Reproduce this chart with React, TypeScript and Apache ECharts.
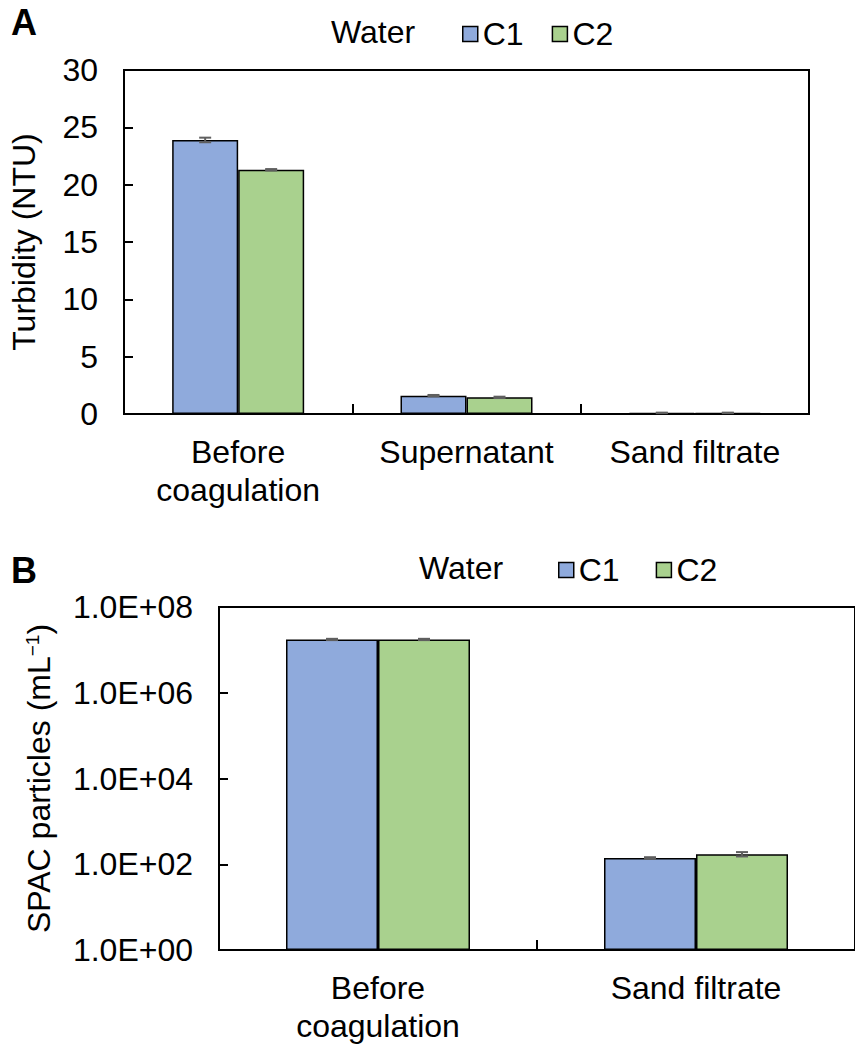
import React, { useEffect, useRef } from "react";
import * as echarts from "echarts";

const FONT = "'Liberation Sans', Arial, sans-serif";

// Panel A – turbidity
const categoriesA = ["Before\ncoagulation", "Supernatant", "Sand filtrate"];
const turbidityC1 = [23.9, 1.6, 0.1];
const turbidityC2 = [21.3, 1.45, 0.1];
const turbidityErrC1 = [0.2, 0.06, 0.02];
const turbidityErrC2 = [0.06, 0.06, 0.02];
const ticksA = [0, 5, 10, 15, 20, 25, 30];

// Panel B – SPAC particles
const categoriesB = ["Before\ncoagulation", "Sand filtrate"];
const spacC1 = [1.75e7, 140];
const spacC2 = [1.75e7, 172];
const spacErrC1 = [6e5, 6];
const spacErrC2 = [6e5, 20];
const ticksB = ["1.0E+00", "1.0E+02", "1.0E+04", "1.0E+06", "1.0E+08"];

const seriesNames = ["C1", "C2"];
const colors = ["#8FAADC", "#A9D18E"];

function errorSeries(name: string, xi: number, yi: number, vals: number[], errs: number[], offset: number) {
  return {
    name: name + " err",
    type: "custom",
    xAxisIndex: xi,
    yAxisIndex: yi,
    z: 10,
    encode: { x: 0, y: 1 },
    silent: true,
    data: vals.map((v, i) => [i, v, errs[i]]),
    renderItem: (params: any, api: any) => {
      const i = api.value(0);
      const v = api.value(1);
      const e = api.value(2);
      const top = api.coord([i, v + e]);
      const bot = api.coord([i, v - e]);
      const cx = top[0] + offset;
      const style = { stroke: "#5f5f5f", lineWidth: 2 };
      return {
        type: "group",
        children: [
          { type: "line", shape: { x1: cx, y1: top[1], x2: cx, y2: bot[1] }, style },
          { type: "line", shape: { x1: cx - 6, y1: top[1], x2: cx + 6, y2: top[1] }, style },
          { type: "line", shape: { x1: cx - 6, y1: bot[1], x2: cx + 6, y2: bot[1] }, style },
        ],
      };
    },
  };
}

export default function App() {
  const ref = useRef<HTMLDivElement>(null);
  useEffect(() => {
    if (!ref.current) return;
    const chart = echarts.init(ref.current, undefined, { renderer: "svg" });
    const fs = 32;
    const txt = { color: "#000", fontFamily: FONT, fontSize: fs };
    const axisLine = { show: true, lineStyle: { color: "#000", width: 2 } };
    const barStyle = (c: string) => ({ color: c, borderColor: "#000", borderWidth: 1.5 });
    const barsA = [turbidityC1, turbidityC2];
    const barsB = [spacC1, spacC2];
    const option: any = {
      animation: false,
      backgroundColor: "#fff",
      textStyle: { fontFamily: FONT },
      graphic: [
        { type: "text", left: 11, top: 4, style: { text: "A", font: `bold 36px ${FONT}`, fill: "#000" } },
        { type: "text", left: 11, top: 552, style: { text: "B", font: `bold 36px ${FONT}`, fill: "#000" } },
        { type: "text", left: 331, top: 16, style: { text: "Water", font: `${fs}px ${FONT}`, fill: "#000" } },
        { type: "text", left: 419, top: 552, style: { text: "Water", font: `${fs}px ${FONT}`, fill: "#000" } },
      ],
      legend: [
        {
          left: 462, top: 17, itemWidth: 15, itemHeight: 15, itemGap: 28, icon: "rect",
          data: seriesNames, textStyle: { ...txt, lineHeight: 34 }, padding: 0,
          itemStyle: { borderColor: "#000", borderWidth: 1.5 }, selectedMode: false,
        },
        {
          left: 558, top: 553, itemWidth: 15, itemHeight: 15, itemGap: 36, icon: "rect",
          data: seriesNames, textStyle: { ...txt, lineHeight: 34 }, padding: 0,
          itemStyle: { borderColor: "#000", borderWidth: 1.5 }, selectedMode: false,
        },
      ],
      grid: [
        { left: 119, top: 70, width: 690, height: 344, show: true, borderColor: "#000", borderWidth: 2 },
        { left: 219, top: 607, width: 644, height: 343, show: true, borderColor: "#000", borderWidth: 2 },
      ],
      xAxis: [
        {
          type: "category", gridIndex: 0, data: categoriesA, axisLine,
          axisTick: { show: true, inside: true, length: 10, lineStyle: { color: "#000", width: 2 } },
          axisLabel: { ...txt, margin: 19, lineHeight: 38, interval: 0 },
        },
        {
          type: "category", gridIndex: 1, data: categoriesB, axisLine,
          axisTick: { show: true, inside: true, length: 10, lineStyle: { color: "#000", width: 2 } },
          axisLabel: { ...txt, margin: 19, lineHeight: 38, interval: 0 },
        },
      ],
      yAxis: [
        {
          type: "value", gridIndex: 0, min: ticksA[0], max: ticksA[ticksA.length - 1], interval: 5,
          axisLine, splitLine: { show: false },
          axisTick: { show: true, inside: true, length: 9, lineStyle: { color: "#000", width: 2 } },
          axisLabel: { ...txt, margin: 26 },
          name: "Turbidity (NTU)", nameLocation: "middle", nameGap: 84, nameRotate: 90,
          nameTextStyle: { ...txt },
        },
        {
          type: "log", gridIndex: 1, min: 1, max: 1e8, logBase: 10, interval: 2,
          axisLine, splitLine: { show: false },
          axisTick: { show: true, inside: true, length: 9, lineStyle: { color: "#000", width: 2 } },
          axisLabel: {
            ...txt, margin: 26,
            formatter: (v: number) => {
              const e = Math.round(Math.log10(v));
              const lbl = "1.0E+" + String(e).padStart(2, "0");
              return ticksB.indexOf(lbl) >= 0 ? lbl : "";
            },
          },
          name: "SPAC particles (mL{sup|−1})", nameLocation: "middle", nameGap: 164, nameRotate: 90,
          nameTextStyle: { ...txt, rich: { sup: { fontFamily: FONT, fontSize: 19, color: "#000", verticalAlign: "top", padding: [0, 0, 10, 0] } } },
        },
      ],
      series: [
        ...seriesNames.map((n, k) => ({
          name: n, type: "bar", xAxisIndex: 0, yAxisIndex: 0, barWidth: 66, barGap: "0%",
          itemStyle: barStyle(colors[k]), data: barsA[k],
        })),
        ...seriesNames.map((n, k) => ({
          name: n, type: "bar", xAxisIndex: 1, yAxisIndex: 1, barWidth: 92, barGap: "0%",
          itemStyle: barStyle(colors[k]), data: barsB[k],
        })),
        errorSeries("C1", 0, 0, turbidityC1, turbidityErrC1, -33),
        errorSeries("C2", 0, 0, turbidityC2, turbidityErrC2, 33),
        errorSeries("C1", 1, 1, spacC1, spacErrC1, -46),
        errorSeries("C2", 1, 1, spacC2, spacErrC2, 46),
      ],
    };
    chart.setOption(option);
    return () => chart.dispose();
  }, []);
  return <div ref={ref} style={{ position: "absolute", left: 0, top: 0, width: 855, height: 1045 }} />;
}
